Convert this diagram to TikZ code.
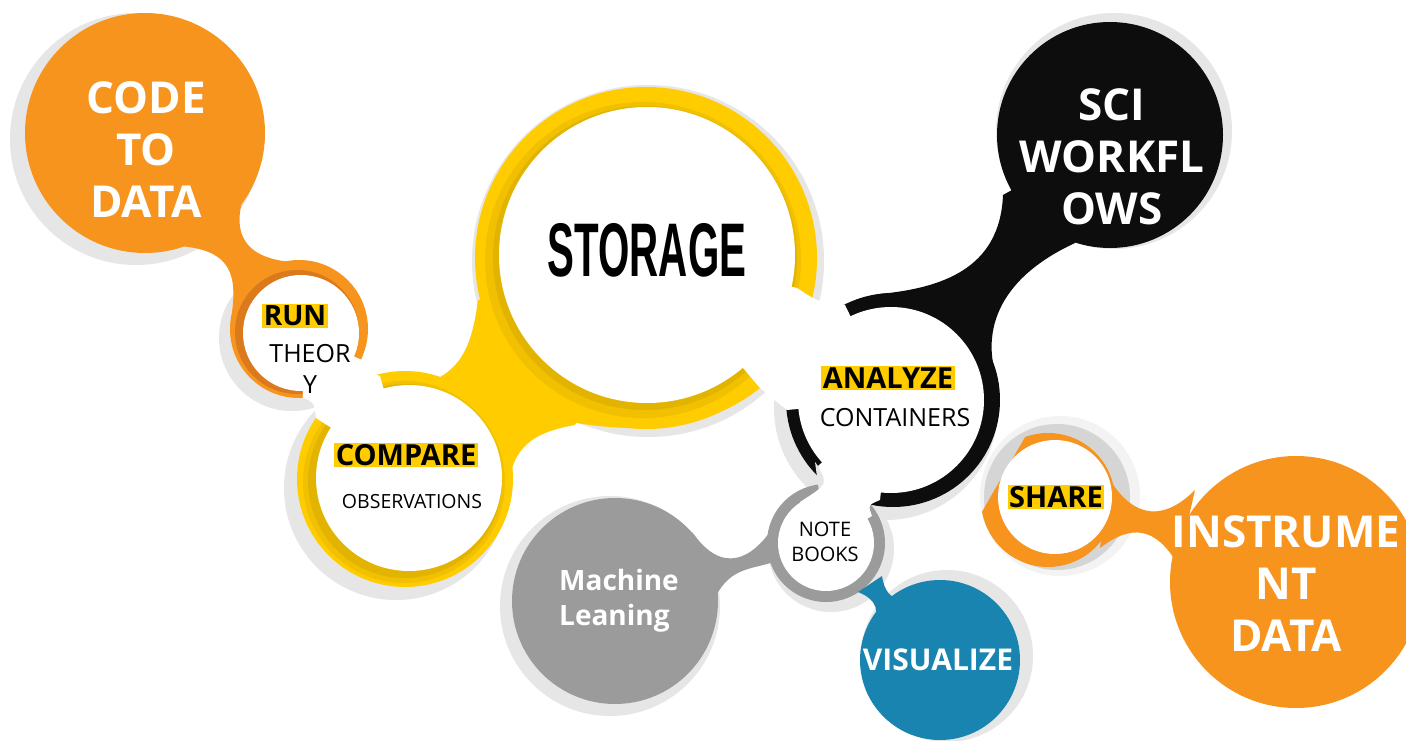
\documentclass[tikz,border=0pt]{standalone}
\usepackage{fontspec}
\usepackage{graphicx}
\setmainfont{Open Sans}
\newfontfamily\condfont{Liberation Sans}
\definecolor{cOrange}{HTML}{F7941D}
\definecolor{cOrangeD}{HTML}{DB7A1C}
\definecolor{cYellow}{HTML}{FFCC00}
\definecolor{cGold}{HTML}{D6AA00}
\definecolor{cBlack}{HTML}{0D0D0D}
\definecolor{cGray}{HTML}{9B9B9B}
\definecolor{cBlue}{HTML}{1884AF}
\definecolor{cShadow}{HTML}{E6E6E6}
\definecolor{cShadowD}{HTML}{D5D5D5}
\tikzset{
  shadowdisk/.style={fill=cShadow},
  bigtext/.style={text=white, font=\fontsize{44}{52}\selectfont\bfseries, align=center},
  hilite/.style={fill=cYellow, inner sep=1.5pt, text=black, font=\fontsize{29}{34}\selectfont\bfseries},
  subtext/.style={text=black, font=\fontsize{25}{30}\selectfont, inner sep=0pt},
}
\begin{document}
\begin{tikzpicture}[x=1pt,y=-1pt]
\useasboundingbox (0,0) rectangle (1406,741);
\fill[white] (0,0) rectangle (1406,741);

% ---------- shadows ----------
\fill[shadowdisk] (136,139) circle[radius=126];
\fill[shadowdisk] (292,338) circle[radius=73];
\fill[shadowdisk] (396,488) circle[radius=112];
\fill[shadowdisk] (648,261) circle[radius=176];
\fill[shadowdisk] (1114,131) circle[radius=118];
\fill[shadowdisk] (886,408) circle[radius=112];
\fill[shadowdisk] (831,549) circle[radius=63];
\fill[shadowdisk] (610,606) circle[radius=110];
\fill[shadowdisk] (947,656) circle[radius=86];
\fill[cShadow!50!white] (1060,496) circle[radius=80];
\fill[cShadowD] (1057,497) circle[radius=73];

% ---------- CODE TO DATA + RUN ring ----------
\fill[cOrange] (145,133) circle[radius=120];
\fill[cOrange] (250,180) .. controls (228,228) and (240,258) .. (292,262)
  -- (299,329) -- (232,312) .. controls (238,268) and (225,250) .. (180,246)
  -- (145,133) -- cycle;
\fill[cOrange] (299,329) circle[radius=69];
\fill[cOrangeD] (297,332) circle[radius=62];

% ---------- COMPARE + STORAGE yellow ----------
\fill[cYellow] (405,479) circle[radius=108];
\fill[cYellow] (646,258) circle[radius=171];
\fill[cYellow] (372,393) .. controls (455,388) and (470,360) .. (478,300)
  -- (646,258) -- (575,425) .. controls (535,432) and (520,445) .. (512,468)
  -- (405,479) -- cycle;
\fill[cYellow] (560,420) .. controls (660,440) and (720,420) .. (760,388)
  -- (740,340) -- cycle;
% gold inner shading
\fill[cGold!35!cYellow] (404,482) circle[radius=101];
\fill[cGold!70!cYellow] (405,481) circle[radius=97];
\fill[cGold!35!cYellow] (643,260) circle[radius=158];
\fill[cGold!70!cYellow] (645,258) circle[radius=152];

% ---------- SCI WORKFLOWS + ANALYZE ring ----------
\fill[cBlack] (1110,135) circle[radius=113];
\fill[cBlack] (1003,195) .. controls (1000,270) and (940,288) .. (880,294)
  -- (893,400) -- (999,385) .. controls (980,335) and (995,280) .. (1075,243)
  -- (1110,135) -- cycle;
\fill[cBlack] (893,400) circle[radius=107];

% ---------- NOTEBOOKS + Machine ----------
\fill[cGray] (615,601) circle[radius=103];
\fill[cGray] (692,532) .. controls (722,575) and (752,560) .. (774,526)
  -- (774,562) .. controls (748,570) and (728,568) .. (713,602) -- cycle;
\fill[cGray] (826,543) circle[radius=59];

% ---------- VISUALIZE ----------
\fill[cBlue] (940,660) circle[radius=80];
\fill[cBlue] (858,592) .. controls (878,600) and (880,612) .. (872,630)
  -- (905,600) .. controls (890,600) and (884,590) .. (882,576) -- cycle;

% ---------- SHARE + INSTRUMENT ----------
\fill[cOrange] (1110,480) .. controls (1135,520) and (1165,520) .. (1195,490)
  -- (1178,565) .. controls (1155,525) and (1130,525) .. (1100,548) -- cycle;
\fill[cOrange] (1296,582) circle[radius=126];
\fill[cOrange] (1048,500) ++(250:67) arc[start angle=250, end angle=530, radius=67] -- cycle;

% ---------- white interiors ----------
\fill[white] (301,333) circle[radius=58];
\fill[white] (409,478) circle[radius=93];
\fill[white] (301,333) -- (303,398) .. controls (314,402) .. (316,418)
  -- (409,478) -- (380,376) .. controls (368,372) .. (362,360) -- cycle;
\fill[white] (647,255) circle[radius=148];
\fill[white] (891,400) circle[radius=93];
% storage - analyze junction
\fill[white] (647,255) -- (797,288) .. controls (818,302) .. (845,305)
  -- (891,400) -- (787,410) .. controls (772,398) .. (760,388) -- cycle;
% analyze - notebooks junction
\fill[cShadow] (826,543) -- (815,462) .. controls (830,482) .. (808,500) -- cycle;
\fill[white] (891,400) -- (818,466) .. controls (828,484) .. (800,502)
  -- (826,543) -- (872,516) .. controls (868,505) .. (880,500) -- cycle;
\fill[white] (826,543) circle[radius=48];
\fill[white] (1055,497) circle[radius=57];

% ---------- text ----------
\node[bigtext] (code) at (146,150) {CODE\\TO\\DATA};
\node[bigtext] (sci) at (1112,157) {SCI\\WORKFL\\OWS};
\node[bigtext] (instr) at (1286,584) {INSTRUME\\NT\\DATA};
\node (storage) at (647,250) {\scalebox{0.53}[1]{\condfont\fontsize{76}{80}\selectfont\bfseries STORAGE}};
\node[hilite, font=\fontsize{28}{32}\selectfont\bfseries] (run) at (295,316) {RUN};
\node[subtext] (theor) at (310,354) {THEOR};
\node[subtext] (theory) at (310,385) {Y};
\node[hilite] (compare) at (406,455) {COMPARE};
\node[subtext, font=\fontsize{19.5}{24}\selectfont] (obs) at (412,502) {OBSERVATIONS};
\node[hilite] (analyze) at (888,378) {ANALYZE};
\node[subtext] (cont) at (895,418) {CONTAINERS};
\node[hilite] (share) at (1056,497) {SHARE};
\node[subtext, font=\fontsize{20}{25}\selectfont, align=center] (nb) at (825,542) {NOTE\\BOOKS};
\node[text=white, font=\fontsize{28}{35}\selectfont\bfseries, align=left] (ml) at (619,601) {Machine\\Leaning};
\node[text=white, font=\fontsize{30}{36}\selectfont\bfseries] (vis) at (938,660) {VISUALIZE};
\end{tikzpicture}
\end{document}
